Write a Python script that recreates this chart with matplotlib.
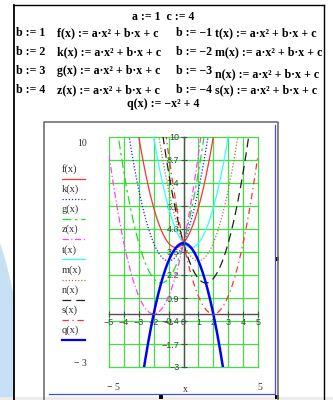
import numpy as np
import matplotlib
matplotlib.use('Agg')
from matplotlib import pyplot as plt
from matplotlib.patches import Rectangle, Polygon

# parameters of the parabolas a*x^2 + b*x + c
a = 1
c = 4
names = ['f', 'k', 'g', 'z', 't', 'm', 'n', 's']
b_values = [1, 2, 3, 4, -1, -2, -3, -4]
colors = ['#ff3030', '#2020ff', '#20dd20', '#ff40ff', '#30ffff', '#b07838', '#202020', '#ff3030']
styles = ['-', (0, (1, 1.5)), (0, (7, 3, 2, 3)), (0, (5, 2, 1, 2)), '-', (0, (1, 1.5)), (0, (7, 4)), (0, (5, 3, 1, 3))]
q_name = 'q'

x_ticks = [-5, -4, -3, -2, -1, 0, 1, 2, 3, 4, 5]
y_ticks = [-3, -1.7, -0.4, 0.9, 2.2, 3.5, 4.8, 6.1, 7.4, 8.7, 10]
y_tick_labels = ['−3', '−1.7', '−0.4', '0.9', '2.2', '3.5', '4.8', '6.1', '7.4', '8.7', '10']
x_tick_labels = ['−5', '−4', '−3', '−2', '−1', '0', '1', '2', '3', '4', '5']

W, H = 333, 400
fig = plt.figure(figsize=(W / 100, H / 100), dpi=100)
fig.patch.set_facecolor('white')

# overlay in pixel coordinates for the worksheet decorations
bg = fig.add_axes([0, 0, 1, 1])
bg.set_xlim(0, W)
bg.set_ylim(H, 0)
bg.axis('off')

bg.add_patch(Polygon([(0, 243), (6, 262), (14, 296), (14, 400), (0, 400)],
                     closed=True, color='#c8e0f4', lw=0))
bg.add_patch(Rectangle((0, 397), W, 3, color='#ececec', lw=0))
bg.plot([14, 14], [5, 400], color='black', lw=1.3)
bg.plot([14, 324], [5, 5], color='black', lw=1.0)
bg.plot([324, 324], [5, 400], color='black', lw=1.0)
# plot region frame
bg.plot([44, 44, 278, 278], [400, 122, 122, 400], color='#707070', lw=1.2)
bg.plot([49, 275, 275], [394, 394, 125], color='#4848ff', lw=0.9)
for px, py in [(277, 259), (277, 397), (161, 397)]:
    bg.add_patch(Rectangle((px - 2, py - 2), 4, 4, color='black', lw=0))

serif = 'Liberation Serif'
eq_kw = dict(family=serif, fontsize=8.6, fontweight='bold', va='center', color='black')
bg.text(163, 17, 'a := 1  c := 4', ha='center', **eq_kw)
row_y = [33, 52, 71, 90]
for i in range(4):
    bl = b_values[i]
    br = b_values[i + 4]
    bg.text(16, row_y[i], 'b := %d' % bl, **eq_kw)
    bg.text(57, row_y[i], '%s(x) := a·x² + b·x + c' % names[i], **eq_kw)
    bg.text(176, row_y[i], 'b := −%d' % abs(br), **eq_kw)
    dy = 3 if i == 2 else 0
    bg.text(215, row_y[i] + dy, '%s(x) := a·x² + b·x + c' % names[i + 4], **eq_kw)
bg.text(163, 104, 'q(x) := −x² + 4', ha='center', **eq_kw)

# legend on the left
lab_kw = dict(family=serif, fontsize=7.5, color='#303030', va='center')
leg_y0, leg_dy = 169, 20.2
all_names = names + [q_name]
all_colors = colors + ['#0000ff']
all_styles = styles + ['-']
for i, nm in enumerate(all_names):
    yy = leg_y0 + i * leg_dy
    bg.text(62, yy, '%s(x)' % nm, **lab_kw)
    bg.plot([62, 85], [yy + 9.5, yy + 9.5], color=all_colors[i], linestyle=all_styles[i],
            lw=1.6 if nm == q_name else 0.9)

lim_kw = dict(family=serif, fontsize=7, color='#303030', va='center')
bg.text(87, 143, '10', ha='right', **lim_kw)
bg.text(87, 364, '− 3', ha='right', **lim_kw)
bg.text(113, 388, '− 5', ha='center', **lim_kw)
bg.text(185, 390, 'x', ha='center', **lim_kw)
bg.text(260, 388, '5', ha='center', **lim_kw)

# the graph itself
left, right, top, bottom = 109, 258, 137, 367
ax = fig.add_axes([left / W, 1 - bottom / H, (right - left) / W, (bottom - top) / H])
ax.set_facecolor('none')
ax.set_xlim(-5, 5)
ax.set_ylim(-3, 10)

grid_col = '#44dd44'
for gx in x_ticks:
    ax.axvline(gx, color=grid_col, lw=0.9, zorder=1, clip_on=False)
for gy in y_ticks:
    ax.axhline(gy, color=grid_col, lw=0.9, zorder=1, clip_on=False)

xs = np.linspace(-5, 5, 600)
for i, nm in enumerate(names):
    ys = a * xs ** 2 + b_values[i] * xs + c
    ax.plot(xs, ys, color=colors[i], linestyle=styles[i], lw=0.9, zorder=3)
ax.plot(xs, -xs ** 2 + 4, color='#0000ff', lw=1.8, zorder=4)

for side in ['top', 'right']:
    ax.spines[side].set_visible(False)
ax.spines['left'].set_position(('data', 0))
ax.spines['bottom'].set_position(('data', 0))
for side in ['left', 'bottom']:
    ax.spines[side].set_color('#505050')
    ax.spines[side].set_linewidth(1.0)
    ax.spines[side].set_zorder(5)

ax.set_xticks(x_ticks)
ax.set_xticklabels(x_tick_labels)
ax.set_yticks(y_ticks)
ax.set_yticklabels(y_tick_labels)
ax.tick_params(axis='both', direction='inout', length=4, width=0.8, color='#505050',
               labelsize=6.5, labelcolor='#404040', pad=1)
for lbl in ax.get_xticklabels() + ax.get_yticklabels():
    lbl.set_family('Liberation Sans')

fig.savefig('out.png', dpi=100, facecolor='white')
